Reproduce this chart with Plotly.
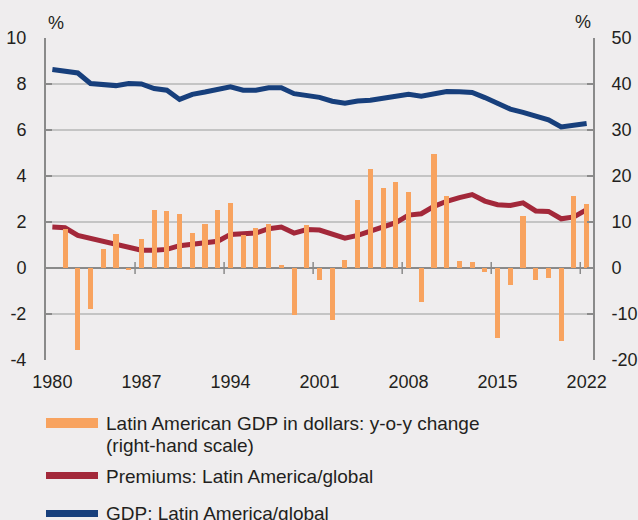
import plotly.graph_objects as go

# Annual series, 1980-2022
years = list(range(1980, 2023))

# Latin American GDP in dollars, y-o-y change (%), right-hand scale
gdp_yoy = [None, 8.5, -17.9, -8.9, 4.2, 7.3, -0.5, 6.2, 12.6, 12.3, 11.7,
           7.6, 9.6, 12.7, 14.2, 7.2, 8.7, 9.6, 0.6, -10.3, 9.3,
           -2.5, -11.4, 1.8, 14.7, 21.5, 17.4, 18.7, 16.5, -7.4, 24.7,
           15.6, 1.5, 1.2, -0.9, -15.2, -3.6, 11.2, -2.5, -2.1, -15.9,
           15.6, 14.0]

# Premiums: Latin America / global (%)
premium_share = [1.78, 1.75, 1.42, 1.29, 1.20, 1.03, 0.90, 0.77, 0.77, 0.81,
                 0.97, 1.03, 1.12, 1.16, 1.46, 1.49, 1.52, 1.71, 1.78, 1.52,
                 1.67, 1.65, 1.45, 1.30, 1.42, 1.59, 1.77, 1.97, 2.30, 2.36,
                 2.68, 2.90, 3.06, 3.19, 2.91, 2.75, 2.72, 2.83, 2.48, 2.46,
                 2.14, 2.22, 2.54]

# GDP: Latin America / global (%)
gdp_share = [8.63, 8.55, 8.48, 8.02, 7.97, 7.93, 8.02, 8.00, 7.80, 7.73,
             7.33, 7.55, 7.65, 7.78, 7.88, 7.73, 7.73, 7.84, 7.84, 7.58,
             7.51, 7.42, 7.25, 7.16, 7.26, 7.29, 7.38, 7.45, 7.55, 7.47,
             7.58, 7.67, 7.66, 7.63, 7.41, 7.15, 6.91, 6.77, 6.61, 6.44,
             6.13, 6.20, 6.28]

tick_years = [1980, 1987, 1994, 2001, 2008, 2015, 2022]
left_ticks = [-4, -2, 0, 2, 4, 6, 8, 10]
right_ticks = [-20, -10, 0, 10, 20, 30, 40, 50]

legend_labels = [["Latin American GDP in dollars: y-o-y change", "(right-hand scale)"],
                 ["Premiums: Latin America/global"],
                 ["GDP: Latin America/global"]]

ORANGE = "#f8a35f"
RED = "#a3283a"
BLUE = "#173f7c"
AXIS = "#8a8a8a"
GRID = "#c4c4c4"
BG = "#efedee"
TEXT = "#231f20"
FONT = "Liberation Sans, Arial, sans-serif"
TICK_SIZE = 18
LEGEND_SIZE = 19

W, H = 638, 520
ML, MR, MT, MB = 46, 45, 38, 160
PW, PH = W - ML - MR, H - MT - MB

fig = go.Figure()

fig.add_trace(go.Bar(x=years, y=gdp_yoy, yaxis="y2", width=0.4,
                     marker=dict(color=ORANGE, line=dict(width=0)),
                     name=" ".join(legend_labels[0]), showlegend=False))
fig.add_trace(go.Scatter(x=years, y=gdp_share, mode="lines",
                         line=dict(color=BLUE, width=5),
                         name=legend_labels[2][0], showlegend=False))
fig.add_trace(go.Scatter(x=years, y=premium_share, mode="lines",
                         line=dict(color=RED, width=5),
                         name=legend_labels[1][0], showlegend=False))

# small tick marks crossing the zero line, half a year left of each label
for yr in tick_years[1:]:
    fig.add_shape(type="line", xref="x", yref="y",
                  x0=yr - 0.5, x1=yr - 0.5, y0=-0.26, y1=0.26,
                  line=dict(color=AXIS, width=1.5))


def px_to_paper_x(px):
    return (px - ML) / PW


def px_to_paper_y(py):
    return (H - MB - py) / PH


# legend: swatch rectangles and their label lines
swatches = [(ORANGE, 418, 428), (RED, 472, 479), (BLUE, 510, 517)]
label_rows = [[423, 445], [476], [513]]
for (color, top, bottom), lines, rows in zip(swatches, legend_labels, label_rows):
    fig.add_shape(type="rect", xref="paper", yref="paper",
                  x0=px_to_paper_x(46), x1=px_to_paper_x(98),
                  y0=px_to_paper_y(bottom), y1=px_to_paper_y(top),
                  fillcolor=color, line=dict(width=0))
    for text, ty in zip(lines, rows):
        fig.add_annotation(xref="paper", yref="paper", x=px_to_paper_x(104),
                           y=px_to_paper_y(ty), text=text, showarrow=False,
                           xanchor="left", yanchor="middle", align="left",
                           font=dict(size=LEGEND_SIZE, color=TEXT, family=FONT))

# unit labels above both axes
fig.add_annotation(xref="paper", yref="paper", x=0, y=px_to_paper_y(23),
                   text="%", showarrow=False, xanchor="left", yanchor="middle",
                   font=dict(size=TICK_SIZE, color=TEXT, family=FONT))
fig.add_annotation(xref="paper", yref="paper", x=1, y=px_to_paper_y(22),
                   text="%", showarrow=False, xanchor="right", yanchor="middle",
                   font=dict(size=TICK_SIZE, color=TEXT, family=FONT))


def tick_text(values):
    # plain hyphen for negatives
    return [str(v) for v in values]


fig.update_layout(
    width=W, height=H,
    margin=dict(l=ML, r=MR, t=MT, b=MB),
    paper_bgcolor=BG, plot_bgcolor=BG,
    font=dict(family=FONT, size=TICK_SIZE, color=TEXT),
    showlegend=False,
    bargap=0,
    xaxis=dict(range=[1979.5, 2022.5], tickmode="array", tickvals=tick_years,
               ticktext=[str(t) for t in tick_years], ticks="",
               showgrid=False, zeroline=False, showline=False, automargin=False,
               tickfont=dict(size=TICK_SIZE), ticklabelstandoff=9),
    yaxis=dict(range=[-4, 10], tickmode="array", tickvals=left_ticks,
               ticktext=tick_text(left_ticks),
               ticks="inside", ticklen=6, tickwidth=1.5, tickcolor=AXIS,
               showgrid=True, gridcolor=GRID, gridwidth=1.5,
               zeroline=True, zerolinecolor=AXIS, zerolinewidth=2,
               showline=True, linecolor=AXIS, linewidth=2, automargin=False,
               tickfont=dict(size=TICK_SIZE), ticklabelstandoff=14),
    yaxis2=dict(range=[-20, 50], tickmode="array", tickvals=right_ticks,
                ticktext=tick_text(right_ticks),
                overlaying="y", side="right",
                ticks="inside", ticklen=6, tickwidth=1.5, tickcolor=AXIS,
                showgrid=False, zeroline=False,
                showline=True, linecolor=AXIS, linewidth=2, automargin=False,
                tickfont=dict(size=TICK_SIZE), ticklabelstandoff=13),
)

fig.write_html("out.html")
